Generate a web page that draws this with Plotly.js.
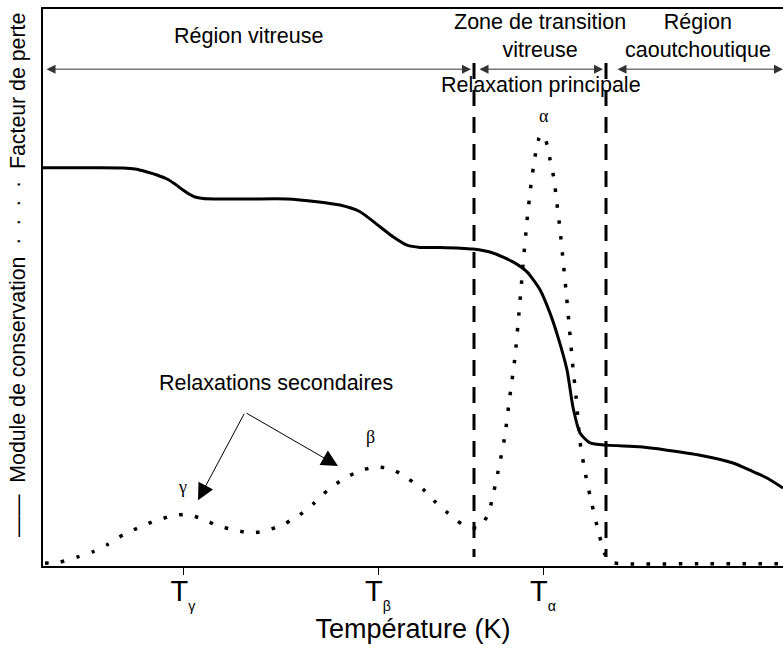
<!DOCTYPE html>
<html>
<head>
<meta charset="utf-8">
<script src="https://cdn.plot.ly/plotly-3.0.1.min.js"></script>
<style>html,body{margin:0;padding:0;background:#fff;}#chart{width:783px;height:648px;}</style>
</head>
<body>
<div id="chart"></div>
<script>
// Storage modulus (solid curve)
const modT = [100,128.5,140,146,152,157,162,166,170,173,176,180,186,203.5,222,237,248.5,258.5,268.5,275,282,288.5,298.5,315,325,335,342,348.5,353.5,357.5,362,365,368.5,373.5,382,398.5,412,428.5,445,453.5,462,470];
const modVal = [71.5,71.5,71.45,71.27,70.74,70.2,69.48,68.58,67.5,66.79,66.25,65.98,65.9,65.9,65.9,65.4,64.8,63.6,60.9,59.1,57.6,57.2,57.2,56.9,56.2,54.6,52.8,49.6,45.4,41.1,35.2,28.5,23.9,22.1,21.7,21.4,20.8,19.9,18.5,17.2,15.8,14.0];

// Loss factor (dotted curve)
const lossT = [101,108.5,117,124.5,132.5,140,148.5,156,164.5,172,180,187.5,195.5,203.5,211,218.5,227,235,242,250,258.5,266.5,274.5,282,290,295.5,302.5,309.5,317.5,322.5,328,331,333,336,338,340,342,344,346,348,349.5,351.5,353.5,355.5,357,358.5,360,361.5,363,365,366.5,368.5,371,374.5,377.5,380.5,383.5,391,430,470];
const lossVal = [0.5,0.7,1.6,2.5,3.9,5.6,7.0,8.1,9.0,9.3,8.4,7.2,6.5,5.9,6.3,7.2,8.8,11.1,13.5,15.6,17.1,17.8,17.4,15.8,13.8,11.7,9.5,7.5,6.8,9.2,17.8,23.5,29.3,37.5,45.5,54.0,62.0,68.5,73.5,76.8,77.5,76.3,73.0,69.5,65.0,60.5,55.0,49.5,43.5,35.5,30.5,22.3,16.9,11.0,6.5,2.5,0.7,0.4,0.4,0.4];

// Transition boundaries (vertical dashed lines)
const boundaryT = [315.5, 381.5];
const boundaryY = [1.6, 90.3];

// Ticks
const tickT = [170, 267.5, 350];
const tickLabels = ['T<sub><sub>γ</sub></sub>', 'T<sub><sub>β</sub></sub>', 'T<sub><sub>α</sub></sub>'];

// Region arrows [start, end] along temperature
const regionArrows = [[101, 314], [317.5, 380], [386.5, 470]];
const regionArrowY = 89.2;

// Region labels
const regionLabels = ['Région vitreuse', 'Zone de transition<br>vitreuse', 'Région<br>caoutchoutique'];
const regionLabelT = [202.5, 348.5, 427.5];
const regionLabelY = 95.1;

// Peak labels
const peakNames = ['γ', 'β', 'α'];
const peakLabelT = [169.5, 263.5, 350.5];
const peakLabelY = [14.2, 23.2, 80.8];

// Secondary relaxation callout
const secText = 'Relaxations secondaires';
const secTextPos = [216.5, 32.9];
const secTail = [201, 27.6];
const secHeads = [[177.5, 11.8], [247.5, 17.95]];

// Axis titles
const xTitle = 'Température (K)';
const yTitle = '—— \u00a0Module de conservation \u00a0·\u00a0 ·\u00a0 ·\u00a0 ·\u00a0 Facteur de perte';

const FONT = 'Liberation Sans, Arial, sans-serif';
const SERIF = 'Liberation Serif, Times New Roman, serif';

const traces = [
  {x: modT, y: modVal, mode: 'lines', line: {color: '#000', width: 3, shape: 'spline', smoothing: 0.6}, hoverinfo: 'skip'},
  {x: lossT, y: lossVal, mode: 'lines', line: {color: '#000', width: 3.5, shape: 'spline', smoothing: 0.5, dash: '3.5px,12.5px'}, hoverinfo: 'skip'}
];
boundaryT.forEach(t => traces.push({x: [t, t], y: [boundaryY[1], boundaryY[0]], mode: 'lines', line: {color: '#000', width: 3, dash: '16px,11px'}, hoverinfo: 'skip'}));

const ann = [];
regionArrows.forEach(a => ann.push({x: a[1], y: regionArrowY, ax: a[0], ay: regionArrowY, xref: 'x', yref: 'y', axref: 'x', ayref: 'y', text: '', showarrow: true, arrowside: 'end+start', arrowhead: 2, arrowsize: 1.8, arrowwidth: 1, arrowcolor: '#333'}));
regionLabels.forEach((t, i) => ann.push({x: regionLabelT[i], y: regionLabelY, xref: 'x', yref: 'y', text: t, showarrow: false, font: {family: FONT, size: 21.5, color: '#000'}, xanchor: 'center', yanchor: 'middle'}));
ann.push({x: 349, y: 86.4, xref: 'x', yref: 'y', text: 'Relaxation principale', showarrow: false, font: {family: FONT, size: 21.5, color: '#000'}, xanchor: 'center', yanchor: 'middle'});
peakNames.forEach((t, i) => ann.push({x: peakLabelT[i], y: peakLabelY[i], xref: 'x', yref: 'y', text: t, showarrow: false, font: {family: SERIF, size: 18, color: '#000'}, xanchor: 'center', yanchor: 'middle'}));
ann.push({x: secTextPos[0], y: secTextPos[1], xref: 'x', yref: 'y', text: secText, showarrow: false, font: {family: FONT, size: 21.5, color: '#000'}, xanchor: 'center', yanchor: 'middle'});
secHeads.forEach(h => ann.push({x: h[0], y: h[1], ax: secTail[0], ay: secTail[1], xref: 'x', yref: 'y', axref: 'x', ayref: 'y', text: '', showarrow: true, arrowhead: 2, arrowsize: 3.3, arrowwidth: 1, arrowcolor: '#000'}));
ann.push({x: -0.034, y: 0.522, xref: 'paper', yref: 'paper', text: yTitle, textangle: -90, showarrow: false, font: {family: FONT, size: 21.3, color: '#000'}, xanchor: 'center', yanchor: 'middle'});

const layout = {
  width: 783, height: 648,
  margin: {l: 43, r: 0, t: 9, b: 82},
  paper_bgcolor: '#fff', plot_bgcolor: '#fff',
  showlegend: false,
  font: {family: FONT, color: '#000'},
  xaxis: {
    range: [100, 470], showgrid: false, zeroline: false,
    showline: true, linecolor: '#000', linewidth: 2, mirror: true,
    tickmode: 'array', tickvals: tickT, ticktext: tickLabels,
    ticks: 'outside', ticklen: 7, tickwidth: 1, tickcolor: '#000',
    ticklabelstandoff: -9,
    tickfont: {family: FONT, size: 29, color: '#000'},
    title: {text: xTitle, font: {family: FONT, size: 27, color: '#000'}, standoff: 4}
  },
  yaxis: {
    range: [0, 100], showgrid: false, zeroline: false,
    showline: true, linecolor: '#000', linewidth: 2,
    showticklabels: false, ticks: ''
  },
  annotations: ann
};

Plotly.newPlot('chart', traces, layout, {staticPlot: true, displayModeBar: false});
</script>
</body>
</html>
